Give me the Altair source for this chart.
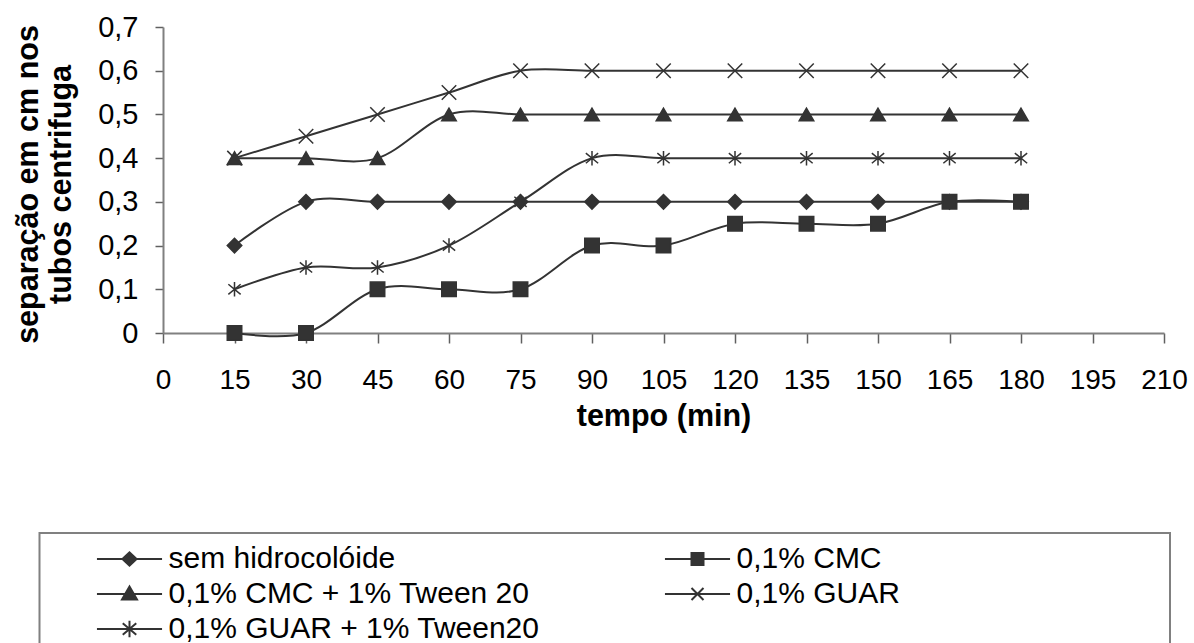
import altair as alt
import pandas as pd

# ---------------- data ----------------
tempos = [15, 30, 45, 60, 75, 90, 105, 120, 135, 150, 165, 180]
series_names = [
    "sem hidrocolóide",
    "0,1% CMC",
    "0,1% CMC + 1% Tween 20",
    "0,1% GUAR",
    "0,1% GUAR + 1% Tween20",
]
sem_hidrocoloide = [0.2, 0.3, 0.3, 0.3, 0.3, 0.3, 0.3, 0.3, 0.3, 0.3, 0.3, 0.3]
cmc = [0.0, 0.0, 0.1, 0.1, 0.1, 0.2, 0.2, 0.25, 0.25, 0.25, 0.3, 0.3]
cmc_tween = [0.4, 0.4, 0.4, 0.5, 0.5, 0.5, 0.5, 0.5, 0.5, 0.5, 0.5, 0.5]
guar = [0.4, 0.45, 0.5, 0.55, 0.6, 0.6, 0.6, 0.6, 0.6, 0.6, 0.6, 0.6]
guar_tween = [0.1, 0.15, 0.15, 0.2, 0.3, 0.4, 0.4, 0.4, 0.4, 0.4, 0.4, 0.4]
x_ticks = [0, 15, 30, 45, 60, 75, 90, 105, 120, 135, 150, 165, 180, 195, 210]
y_ticks = [0, 0.1, 0.2, 0.3, 0.4, 0.5, 0.6, 0.7]

values = [sem_hidrocoloide, cmc, cmc_tween, guar, guar_tween]
rows = []
for name, vals in zip(series_names, values):
    for t, v in zip(tempos, vals):
        rows.append({"tempo": t, "valor": v, "serie": name, "legenda": name})
df = pd.DataFrame(rows)

# ---------------- styling ----------------
INK = "#333333"
FONT = "Liberation Sans"

X_PATH = "M-1,-1L1,1M-1,1L1,-1"
STAR_PATH = "M0,-1L0,1M-0.85,-0.7L0.85,0.7M-0.85,0.7L0.85,-0.7"
plot_shapes = ["diamond", "square", "triangle-up", X_PATH, STAR_PATH]


def fmt(v):
    return ("%.3f" % v).rstrip("0").rstrip(".")


def poly(points):
    return "M" + "L".join(fmt(px) + "," + fmt(py) for px, py in points) + "Z"


def nested(points, scales):
    # concentric outlines, so that a stroked-only symbol looks solid
    return "".join(poly([(px * s, py * s) for px, py in points]) for s in scales)


SCALES = [1.0, 0.8, 0.6, 0.4, 0.2, 0.05]
LEG = "M-2.17,0H2.17"
legend_shape_by_name = {
    "sem hidrocolóide": LEG + nested([(-0.47, 0), (0, -0.44), (0.47, 0), (0, 0.44)], SCALES),
    "0,1% CMC": LEG + nested([(-0.4, -0.4), (0.4, -0.4), (0.4, 0.4), (-0.4, 0.4)], SCALES),
    "0,1% CMC + 1% Tween 20": LEG + nested([(0, -0.5), (0.5, 0.36), (-0.5, 0.36)], SCALES),
    "0,1% GUAR": LEG + "M-0.4,-0.4L0.4,0.4M-0.4,0.4L0.4,-0.4",
    "0,1% GUAR + 1% Tween20": LEG + "M0,-0.55L0,0.55M-0.45,-0.38L0.45,0.38M-0.45,0.38L0.45,-0.38",
}
# legend fills column by column: column 1 then column 2
legend_order = [
    "sem hidrocolóide",
    "0,1% CMC + 1% Tween 20",
    "0,1% GUAR + 1% Tween20",
    "0,1% CMC",
    "0,1% GUAR",
]
legend_shapes = [legend_shape_by_name[n] for n in legend_order]

x_enc = alt.X(
    "tempo:Q",
    scale=alt.Scale(domain=[0, 210], nice=False),
    axis=alt.Axis(
        values=x_ticks,
        title="tempo (min)",
        grid=False,
        tickSize=10,
        labelPadding=45,
        labelBaseline="alphabetic",
        labelFlush=False,
        labelOverlap=False,
        labelFontSize=28,
        labelFont=FONT,
        labelColor="black",
        titleFont=FONT,
        titleFontSize=30.5,
        titleFontWeight="bold",
        titleColor="black",
        titleBaseline="alphabetic",
        titleY=92,
        domainColor="#808080",
        domainWidth=2,
        tickColor="#606060",
        tickWidth=1.5,
    ),
)
y_enc = alt.Y(
    "valor:Q",
    scale=alt.Scale(domain=[0, 0.7], nice=False),
    axis=alt.Axis(
        values=y_ticks,
        labelExpr="datum.value == 0 ? '0' : replace(format(datum.value, '.1f'), '.', ',')",
        title=["separação em cm nos", "tubos centrifuga"],
        grid=False,
        tickSize=8,
        labelPadding=17,
        labelFlush=False,
        labelOverlap=False,
        labelFontSize=29,
        labelFont=FONT,
        labelColor="black",
        titleFont=FONT,
        titleFontSize=30.5,
        titleFontWeight="bold",
        titleColor="black",
        titleAngle=270,
        titleAlign="center",
        titleBaseline="alphabetic",
        titleLineHeight=33,
        titleX=-126,
        titleY=157,
        domainColor="#808080",
        domainWidth=2,
        tickColor="#606060",
        tickWidth=1.5,
    ),
)

base = alt.Chart(df)

lines = base.mark_line(
    interpolate="cardinal", tension=0, color=INK, strokeWidth=2
).encode(x=x_enc, y=y_enc, detail="serie:N")

points = base.mark_point(
    filled=True, color=INK, stroke=INK, strokeWidth=1.5, opacity=1, size=210
).encode(
    x="tempo:Q",
    y="valor:Q",
    shape=alt.Shape(
        "serie:N",
        scale=alt.Scale(domain=series_names, range=plot_shapes),
        legend=None,
    ),
)

legend_layer = base.transform_filter("false").mark_point(
    filled=False, color=INK, strokeWidth=2, opacity=1
).encode(
    x="tempo:Q",
    y="valor:Q",
    shape=alt.Shape(
        "legenda:N",
        scale=alt.Scale(domain=legend_order, range=legend_shapes),
        legend=alt.Legend(
            title=None,
            orient="none",
            direction="vertical",
            legendX=-49.5,
            legendY=516,
            columns=2,
            columnPadding=120,
            rowPadding=4,
            symbolSize=900,
            symbolStrokeWidth=2,
            symbolStrokeColor=INK,
            symbolFillColor=INK,
            symbolOpacity=1,
            labelFont=FONT,
            labelFontSize=30,
            labelColor="black",
            labelOffset=23,
            labelLimit=600,
            padding=0,
        ),
    ),
)

frame = alt.Chart(pd.DataFrame({"k": [0]})).mark_rect(
    fill=None, fillOpacity=0, stroke="#808080", strokeWidth=2
).encode(
    x=alt.value(-123.5),
    x2=alt.value(1007),
    y=alt.value(506),
    y2=alt.value(720),
)

chart = (
    alt.layer(lines, points, legend_layer, frame)
    .resolve_scale(shape="independent")
    .resolve_legend(shape="independent")
    .properties(
        width=1001,
        height=306,
        autosize=alt.AutoSizeParams(type="none"),
        padding={"left": 163, "top": 27, "right": 30, "bottom": 310},
        background="white",
    )
    .configure_view(stroke=None)
)

chart.save("out.html", embed_options={"renderer": "svg", "actions": False})
